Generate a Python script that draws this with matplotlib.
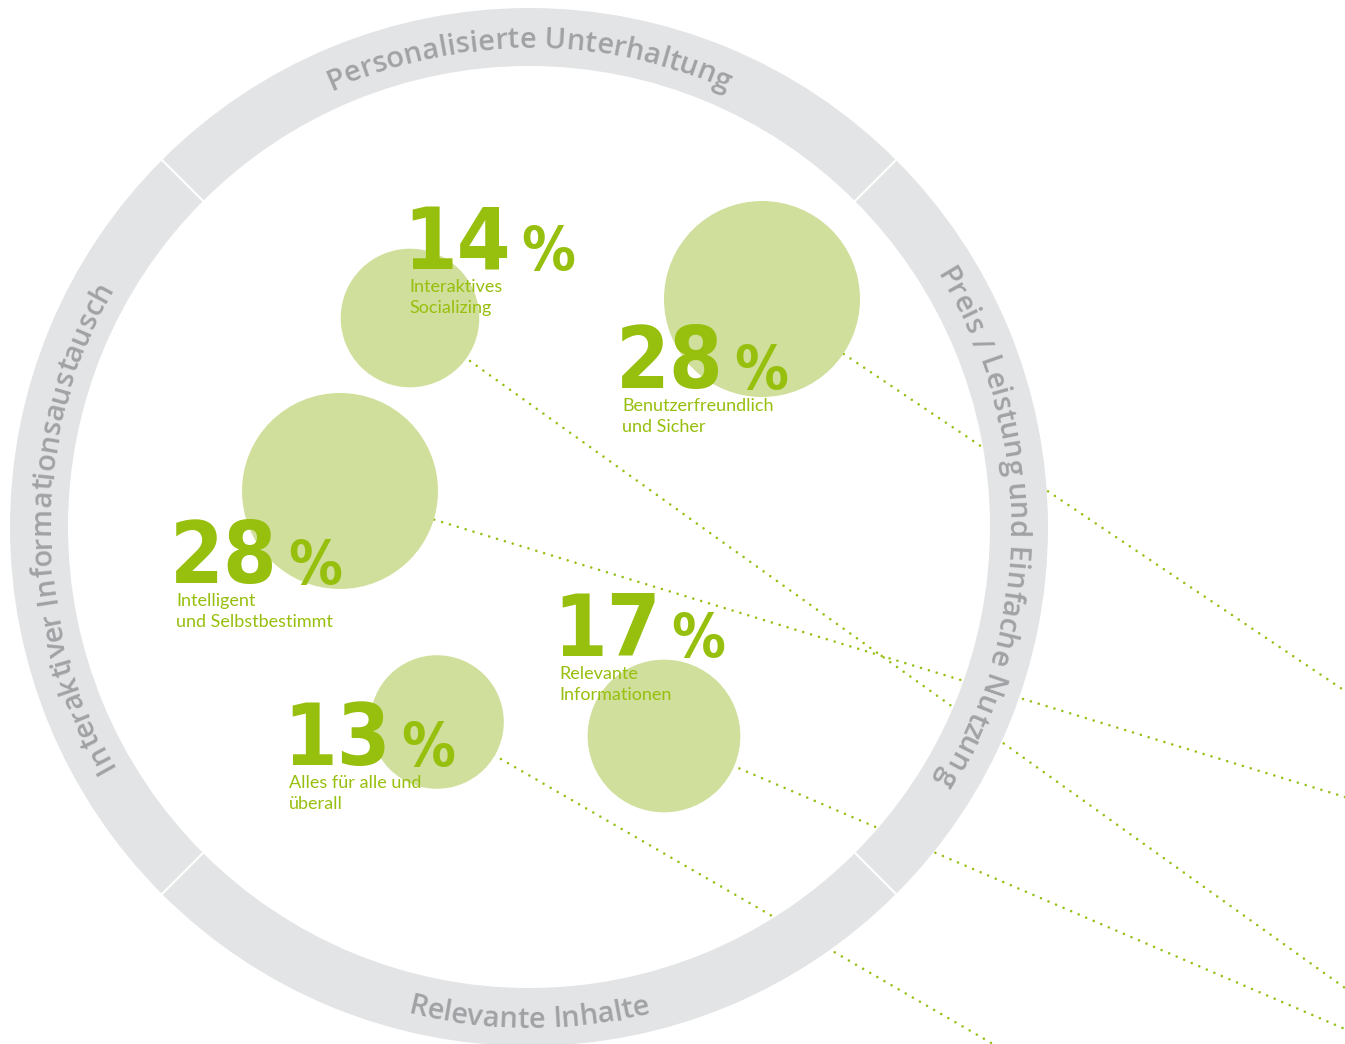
import numpy as np
import matplotlib
matplotlib.use("Agg")
import matplotlib.pyplot as plt
from matplotlib.patches import Circle, Wedge
from matplotlib.font_manager import FontProperties, findfont
from matplotlib.ft2font import FT2Font, LoadFlags

# ---- data -------------------------------------------------------------
shares = [14, 28, 28, 17, 13]
labels = [
    "Interaktives\nSocializing",
    "Benutzerfreundlich\nund Sicher",
    "Intelligent\nund Selbstbestimmt",
    "Relevante\nInformationen",
    "Alles für alle und\nüberall",
]
ring_titles = [
    "Personalisierte Unterhaltung",
    "Preis / Leistung und Einfache Nutzung",
    "Relevante Inhalte",
    "Interaktiver Informationsaustausch",
]

# ---- layout (pixel space, y pointing down) ---------------------------
W, H = 1345, 1044
CX, CY = 529, 527
R_OUT, R_IN = 519, 461
R_MAX = 98                      # bubble radius for the largest share
bubble_xy = [(410, 318), (762, 299), (340, 491), (664, 736), (437, 722)]
number_xy = [(403, 269), (616, 388), (170, 583), (553, 656), (283, 765)]
line_end = [(1345, 988), (1345, 691), (1345, 797), (1345, 1029), (993, 1044)]
title_angle = [90, 0, -90, 180]     # centre of each title, degrees CCW from +x
title_dir = [-1, -1, 1, -1]         # -1: clockwise, tops outward; +1: ccw, tops inward

GREEN = "#97bf0d"
BUBBLE = "#d0df9b"
DOTS = "#97c016"
RING = "#e3e4e5"
RING_TXT = "#a0a2a5"

fig = plt.figure(figsize=(W / 100, H / 100), dpi=100)
ax = fig.add_axes([0, 0, 1, 1])
ax.set_xlim(0, W)
ax.set_ylim(H, 0)
ax.axis("off")

# ---- dotted leader lines ---------------------------------------------
for (bx, by), (ex, ey) in zip(bubble_xy, line_end):
    ax.plot([bx, ex], [by, ey], color=DOTS, lw=1.9,
            linestyle=(0, (0.01, 3.1)), dash_capstyle="round", zorder=1)

# ---- bubbles (area proportional to share) ----------------------------
vmax = max(shares)
for v, (bx, by) in zip(shares, bubble_xy):
    r = R_MAX * np.sqrt(v / vmax)
    ax.add_patch(Circle((bx, by), r, facecolor=BUBBLE, edgecolor="none", zorder=2))

# ---- numbers and captions --------------------------------------------
num_prop = FontProperties(family="DejaVu Sans", weight="bold", stretch="condensed")
pct_prop = FontProperties(family="DejaVu Sans", weight="bold", stretch="condensed")
lab_prop = FontProperties(family="Lato", weight="normal")
renderer = fig.canvas.get_renderer()
for v, lab, (nx, ny) in zip(shares, labels, number_xy):
    t = ax.text(nx, ny, f"{v}", fontproperties=num_prop, fontsize=62,
                color=GREEN, ha="left", va="baseline", zorder=3)
    bb = t.get_window_extent(renderer=renderer)
    ax.text(bb.x1 + 11, ny + 1, "%", fontproperties=pct_prop, fontsize=43,
            color=GREEN, ha="left", va="baseline", zorder=3)
    for k, line in enumerate(lab.split("\n")):
        ax.text(nx + 6, ny + 23 + 21 * k, line, fontproperties=lab_prop,
                fontsize=13, color=GREEN, ha="left", va="baseline", zorder=3)

# ---- outer ring with four segments -----------------------------------
ax.add_patch(Wedge((CX, CY), R_OUT, 0, 360, width=R_OUT - R_IN,
                   facecolor=RING, edgecolor="none", zorder=4))
for a in (45, 135, 225, 315):
    ar = np.radians(a)
    ax.plot([CX + (R_IN - 1) * np.cos(ar), CX + (R_OUT + 1) * np.cos(ar)],
            [CY - (R_IN - 1) * np.sin(ar), CY - (R_OUT + 1) * np.sin(ar)],
            color="white", lw=1.5, zorder=5)

# ---- titles set along the ring ---------------------------------------
ring_prop = FontProperties(family="Open Sans", weight="semibold")
RING_PT = 21


def char_advances(text, prop, size_pt):
    font = FT2Font(findfont(prop))
    font.set_size(size_pt, 100)
    out = []
    for ch in text:
        g = font.load_char(ord(ch), flags=LoadFlags.NO_HINTING)
        out.append(g.linearHoriAdvance / 65536)
    return out


def arc_text(text, phi_c, radius, direction):
    adv = char_advances(text, ring_prop, RING_PT)
    total = sum(adv)
    phi0 = np.radians(phi_c) - direction * (total / 2) / radius
    s = 0.0
    for ch, a in zip(text, adv):
        phi = phi0 + direction * (s + a / 2) / radius
        x = CX + radius * np.cos(phi)
        y = CY - radius * np.sin(phi)
        rot = np.degrees(phi) + 90 * direction
        ax.text(x, y, ch, rotation=rot, rotation_mode="anchor", ha="center",
                va="baseline", fontproperties=ring_prop, fontsize=RING_PT,
                color=RING_TXT, zorder=6)
        s += a


for title, ang, d in zip(ring_titles, title_angle, title_dir):
    arc_text(title, ang, 479 if d < 0 else 501, d)

fig.savefig("out.png", dpi=100)
